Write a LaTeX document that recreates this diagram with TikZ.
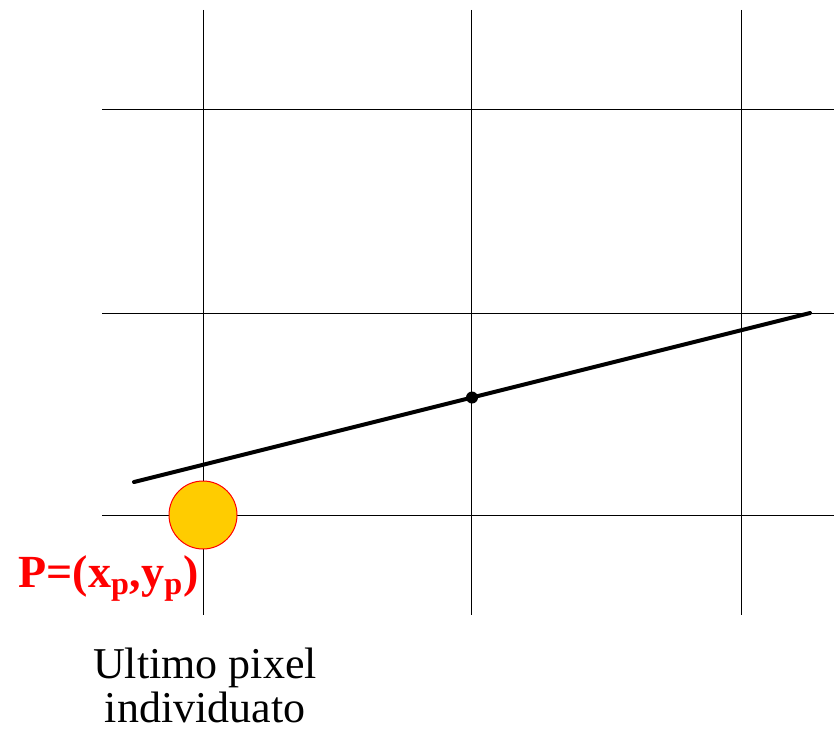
\documentclass[tikz,border=0pt]{standalone}
\usepackage{fontspec}
\setmainfont{Liberation Serif}
\definecolor{pixelyellow}{HTML}{FFCC00}
\begin{document}
\begin{tikzpicture}[x=0.5pt,y=-0.5pt]
            \useasboundingbox (0,0) rectangle (834,733);
            % griglia
            \foreach \x in {203,471,741}
                \draw[line width=0.5pt] (\x,10) -- (\x,615);
            \foreach \y in {110,313,515}
                \draw[line width=0.5pt] (102,\y) -- (834,\y);
            \coordinate (A) at (134,482);
            \coordinate (B) at (810,313);
            \coordinate (M) at (472,397.5);
            \draw[line width=2pt,line cap=round] (A) -- (B);
            \fill (M) circle (3pt);
            \fill[pixelyellow,draw=red,line width=0.5pt] (203,515) circle (17pt);
            \node[anchor=base west,inner sep=0pt,text=red,font=\fontsize{23}{23}\selectfont\bfseries] (P) at (18,587) {P=(x\textsubscript{p},y\textsubscript{p})};
            \node[align=center,inner sep=0pt,anchor=base,font=\fontsize{22}{22}\selectfont] (L) at (205,722) {Ultimo pixel\\individuato};
        \end{tikzpicture}
\end{document}
